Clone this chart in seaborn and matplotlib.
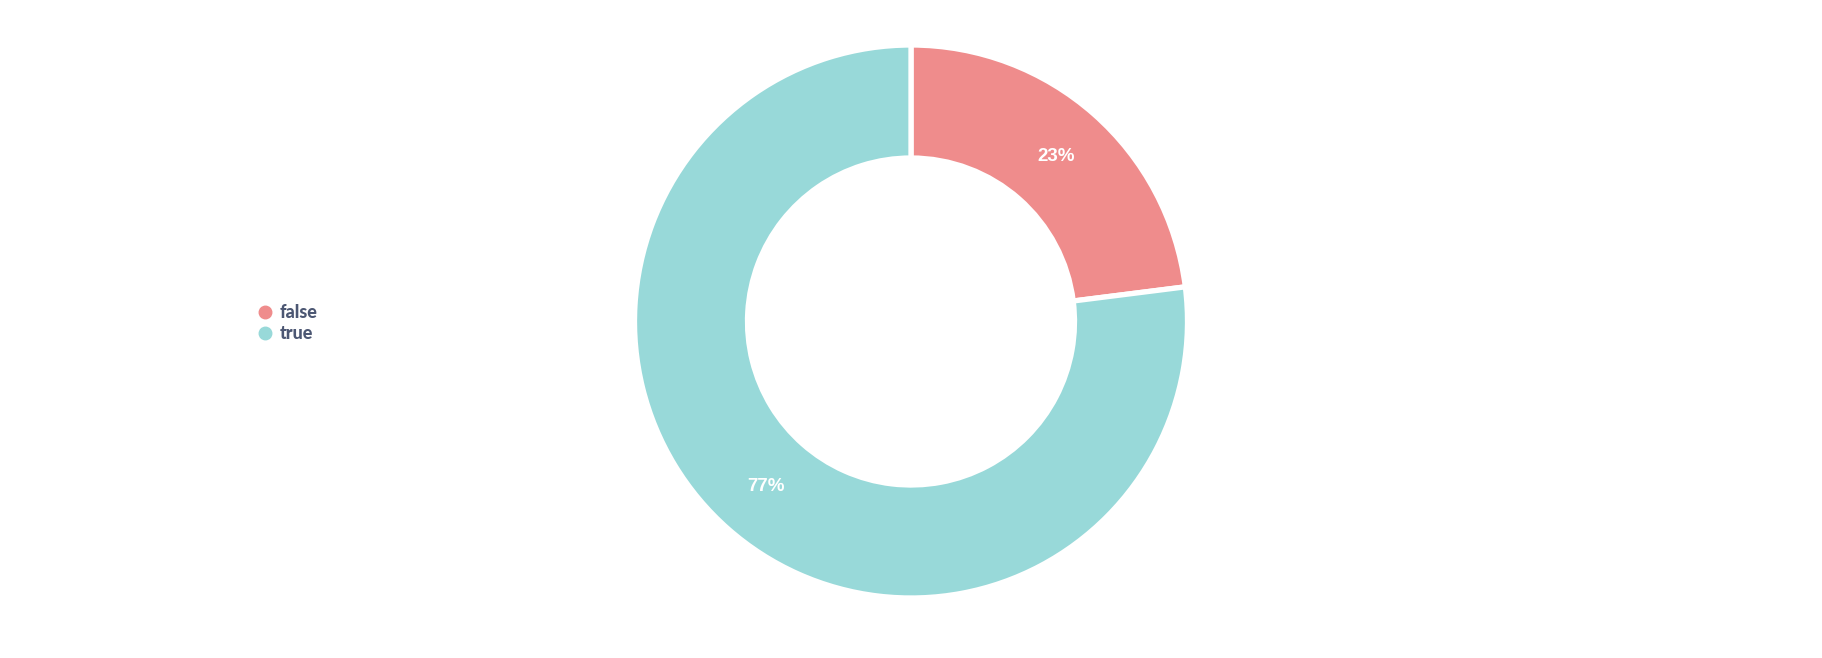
import matplotlib
matplotlib.use("Agg")
import matplotlib.pyplot as plt
import seaborn as sns
from matplotlib.lines import Line2D
from matplotlib import font_manager

categories = ["false", "true"]
values = [23, 77]
colors = ["#EF8C8C", "#98D9D9"]

sns.set_theme(style="white")
plt.rcParams['font.family'] = ['Lato', 'DejaVu Sans']

# pick a bold Lato file if available, else Roboto bold
lato_bold = None
for f in font_manager.fontManager.ttflist:
    if f.name == "Lato" and ("Bold" in f.fname or "Black" in f.fname or f.weight in ("bold", 700)):
        if "Italic" not in f.fname:
            lato_bold = f.fname
            break
if lato_bold:
    leg_prop = font_manager.FontProperties(fname=lato_bold, size=13)
else:
    leg_prop = font_manager.FontProperties(family="Roboto", weight="bold", size=12.5)

W, H = 1822, 658
fig = plt.figure(figsize=(W / 100, H / 100), dpi=100)
ax = fig.add_axes([0, 0, 1, 1])

cx, cy = 911, H - 321.5
R = 276.5
ring = 113

wedges, texts, autotexts = ax.pie(
    values, colors=colors, startangle=90, counterclock=False,
    center=(cx, cy), radius=R, autopct="%d%%", pctdistance=0.795,
    wedgeprops=dict(width=ring, edgecolor="white", linewidth=3.8),
    textprops=dict(color="white", fontsize=13.5, fontweight="bold",
                   family="Liberation Sans"),
)
ax.set_xlim(0, W)
ax.set_ylim(0, H)
ax.set_aspect("equal")
ax.axis("off")

handles = [Line2D([0], [0], marker="o", linestyle="", markersize=9,
                  markerfacecolor=c, markeredgecolor=c) for c in colors]
leg = fig.legend(handles, categories, loc="upper left",
                 bbox_to_anchor=(237.5 / W, 1 - 287.7 / H), frameon=False,
                 handletextpad=0.25, labelspacing=0.25, handlelength=1.2,
                 prop=leg_prop)
for t in leg.get_texts():
    t.set_color("#4C5773")

fig.savefig("out.png", dpi=100, facecolor="white")
